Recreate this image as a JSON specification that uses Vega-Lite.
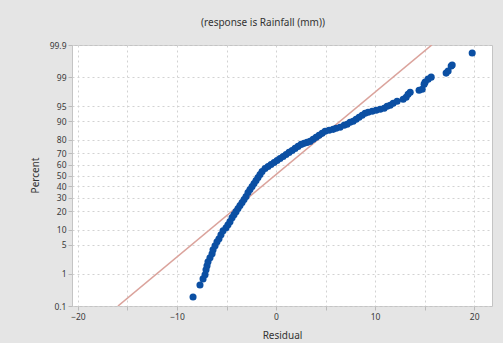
{
  "$schema": "https://vega.github.io/schema/vega-lite/v6.json",
  "autosize": "none",
  "width": 420,
  "height": 261,
  "padding": {"left": 72, "top": 45, "right": 11, "bottom": 37},
  "background": "#e5e5e5",
  "title": {
    "text": "(response is Rainfall (mm))",
    "fontSize": 10,
    "fontWeight": "normal",
    "font": "Noto Sans",
    "color": "#333333",
    "anchor": "middle",
    "frame": "group",
    "dx": -19,
    "offset": 13
  },
  "config": {
    "view": {"fill": "white", "stroke": "#c4c4c4", "strokeWidth": 1},
    "axis": {
      "labelFont": "Noto Sans",
      "titleFont": "Noto Sans",
      "labelColor": "#3a3a3a",
      "titleColor": "#333333",
      "labelFontSize": 8.5,
      "titleFontSize": 10,
      "titleFontWeight": "normal",
      "domain": false,
      "tickColor": "#bbbbbb",
      "tickSize": 4,
      "gridColor": "#d2d2d2",
      "gridDash": [2, 3],
      "gridWidth": 1
    }
  },
  "datasets": {
    "residuals": [
      {"residual": -8.38, "score": -2.876},
      {"residual": -7.68, "score": -2.591},
      {"residual": -7.37, "score": -2.448},
      {"residual": -7.17, "score": -2.353},
      {"residual": -7.07, "score": -2.234},
      {"residual": -6.97, "score": -2.139},
      {"residual": -6.87, "score": -2.044},
      {"residual": -6.67, "score": -1.949},
      {"residual": -6.46, "score": -1.854},
      {"residual": -6.36, "score": -1.759},
      {"residual": -6.16, "score": -1.664},
      {"residual": -5.96, "score": -1.569},
      {"residual": -5.76, "score": -1.497},
      {"residual": -5.56, "score": -1.402},
      {"residual": -5.35, "score": -1.307},
      {"residual": -5.05, "score": -1.236},
      {"residual": -4.85, "score": -1.165},
      {"residual": -4.65, "score": -1.093},
      {"residual": -4.44, "score": -0.998},
      {"residual": -4.24, "score": -0.927},
      {"residual": -4.04, "score": -0.856},
      {"residual": -3.84, "score": -0.784},
      {"residual": -3.64, "score": -0.713},
      {"residual": -3.43, "score": -0.642},
      {"residual": -3.23, "score": -0.570},
      {"residual": -3.03, "score": -0.499},
      {"residual": -2.83, "score": -0.404},
      {"residual": -2.63, "score": -0.333},
      {"residual": -2.42, "score": -0.261},
      {"residual": -2.22, "score": -0.190},
      {"residual": -2.02, "score": -0.119},
      {"residual": -1.82, "score": -0.048},
      {"residual": -1.62, "score": 0.024},
      {"residual": -1.41, "score": 0.095},
      {"residual": -1.11, "score": 0.166},
      {"residual": -0.81, "score": 0.214},
      {"residual": -0.51, "score": 0.261},
      {"residual": -0.20, "score": 0.309},
      {"residual": 0.10, "score": 0.357},
      {"residual": 0.40, "score": 0.404},
      {"residual": 0.71, "score": 0.452},
      {"residual": 1.01, "score": 0.499},
      {"residual": 1.31, "score": 0.547},
      {"residual": 1.62, "score": 0.594},
      {"residual": 1.92, "score": 0.642},
      {"residual": 2.22, "score": 0.689},
      {"residual": 2.53, "score": 0.737},
      {"residual": 2.83, "score": 0.761},
      {"residual": 3.13, "score": 0.784},
      {"residual": 3.43, "score": 0.808},
      {"residual": 3.74, "score": 0.856},
      {"residual": 4.04, "score": 0.903},
      {"residual": 4.34, "score": 0.951},
      {"residual": 4.65, "score": 0.998},
      {"residual": 4.95, "score": 1.046},
      {"residual": 5.35, "score": 1.070},
      {"residual": 5.76, "score": 1.093},
      {"residual": 6.06, "score": 1.117},
      {"residual": 6.46, "score": 1.141},
      {"residual": 6.87, "score": 1.189},
      {"residual": 7.17, "score": 1.212},
      {"residual": 7.47, "score": 1.260},
      {"residual": 7.78, "score": 1.284},
      {"residual": 8.08, "score": 1.331},
      {"residual": 8.38, "score": 1.379},
      {"residual": 8.69, "score": 1.426},
      {"residual": 8.99, "score": 1.474},
      {"residual": 9.29, "score": 1.497},
      {"residual": 9.70, "score": 1.521},
      {"residual": 10.10, "score": 1.545},
      {"residual": 10.51, "score": 1.569},
      {"residual": 10.91, "score": 1.593},
      {"residual": 11.21, "score": 1.640},
      {"residual": 11.52, "score": 1.664},
      {"residual": 11.82, "score": 1.711},
      {"residual": 12.22, "score": 1.759},
      {"residual": 12.83, "score": 1.807},
      {"residual": 13.13, "score": 1.854},
      {"residual": 13.33, "score": 1.925},
      {"residual": 13.54, "score": 1.973},
      {"residual": 14.44, "score": 2.020},
      {"residual": 14.75, "score": 2.044},
      {"residual": 14.95, "score": 2.163},
      {"residual": 15.05, "score": 2.211},
      {"residual": 15.35, "score": 2.282},
      {"residual": 15.66, "score": 2.329},
      {"residual": 17.17, "score": 2.425},
      {"residual": 17.37, "score": 2.472},
      {"residual": 17.68, "score": 2.591},
      {"residual": 17.78, "score": 2.615},
      {"residual": 19.80, "score": 2.900}
    ],
    "fit": [
      {"residual": -15.96, "score": -3.0902},
      {"residual": 15.72, "score": 3.0902}
    ]
  },
  "encoding": {
    "x": {
      "field": "residual",
      "type": "quantitative",
      "title": "Residual",
      "scale": {"domain": [-20.6, 21.8], "nice": false, "zero": false},
      "axis": {
        "values": [-20, -15, -10, -5, 0, 5, 10, 15, 20],
        "labelExpr": "datum.value % 10 === 0 ? datum.label : ''",
        "labelPadding": 2,
        "titleBaseline": "middle",
        "titleY": 29,
        "labelFlush": false
      }
    },
    "y": {
      "field": "score",
      "type": "quantitative",
      "title": "Percent",
      "scale": {"domain": [-3.0902, 3.0902], "nice": false, "zero": false},
      "axis": {
        "values": [-3.0902, -2.3263, -1.6449, -1.2816, -0.8416, -0.5244, -0.2533, 0, 0.2533, 0.5244, 0.8416, 1.2816, 1.6449, 2.3263, 3.0902],
        "labelExpr": "datum.value < -3 ? '0.1' : datum.value < -2 ? '1' : datum.value < -1.5 ? '5' : datum.value < -1 ? '10' : datum.value < -0.7 ? '20' : datum.value < -0.4 ? '30' : datum.value < -0.1 ? '40' : datum.value < 0.1 ? '50' : datum.value < 0.4 ? '60' : datum.value < 0.7 ? '70' : datum.value < 1 ? '80' : datum.value < 1.5 ? '90' : datum.value < 2 ? '95' : datum.value < 3 ? '99' : '99.9'",
        "labelOverlap": false,
        "labelFlush": false,
        "labelBound": false,
        "labelPadding": 2,
        "titleBaseline": "middle",
        "titleX": -37,
        "titleY": 130,
        "titleAngle": 270
      }
    }
  },
  "layer": [
    {
      "data": {"name": "fit"},
      "mark": {"type": "line", "color": "#dba39c", "strokeWidth": 1.6, "clip": true}
    },
    {
      "data": {"name": "residuals"},
      "mark": {"type": "point", "filled": true, "color": "#0b4fa3", "opacity": 1, "size": 50}
    }
  ]
}
